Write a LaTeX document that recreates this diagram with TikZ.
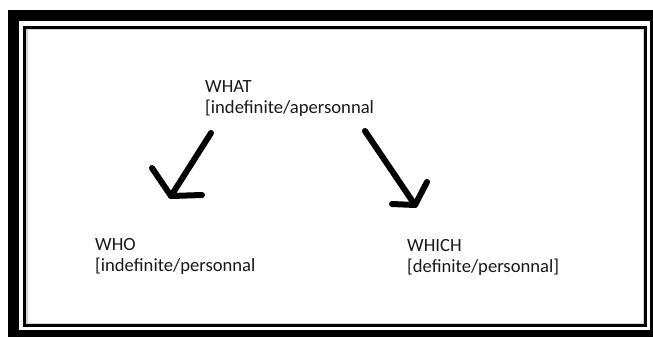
\documentclass[tikz,border=0pt]{standalone}
\usepackage{fontspec}
\setmainfont{Carlito}
\begin{document}
\begin{tikzpicture}
		[
		x=1bp, y=-1bp, font=\fontsize{18.7}{21.5}\selectfont, line cap=round, line join=round,
		%Voreinstellungen für Texte und Striche
		wort/.style={anchor=north west, align=left, inner sep=0pt, text=black!90},
		strich/.style={line width=6bp},
		rahmen/.style={line cap=butt, line join=miter}
		]
		
		%Bildgröße
		\useasboundingbox (0,0) rectangle (653,336);
		\clip (0,0) rectangle (653,336);
		\fill[white] (0,0) rectangle (653,336);
		
		%Rahmen außen
		\draw[rahmen, line width=11bp] (13.5,15.5) rectangle (655.5,335.5);
		
		%Rahmen innen
		\draw[rahmen, line width=3bp] (24.5,27) rectangle (645.5,325.5);
		\draw[rahmen, gray!35, line width=1.5bp] (26.75,29.5) rectangle (643.25,323.25);
		
		%Texte
		\node[wort] (what) at (205,80) {WHAT\\{[}indefinite/apersonnal};
		\node[wort] (who) at (95,238) {WHO\\{[}indefinite/personnal};
		\node[wort] (which) at (407,239) {WHICH\\{[}definite/personnal{]}};
		
		%Pfeil links
		\coordinate (l-start) at (211,133);
		\coordinate (l-spitze) at (171,196);
		\coordinate (l-fluegel) at (152,168);
		\coordinate (l-boden) at (202,195);
		\draw[strich] (l-start) -- (l-spitze);
		\draw[strich] (l-fluegel) -- (l-spitze) -- (l-boden);
		
		%Pfeil rechts
		\coordinate (r-start) at (365,131);
		\coordinate (r-spitze) at (415,205);
		\coordinate (r-fluegel) at (427,182);
		\coordinate (r-boden) at (392,204);
		\draw[strich] (r-start) -- (r-spitze);
		\draw[strich] (r-fluegel) -- (r-spitze) -- (r-boden);
		
	\end{tikzpicture}
\end{document}
